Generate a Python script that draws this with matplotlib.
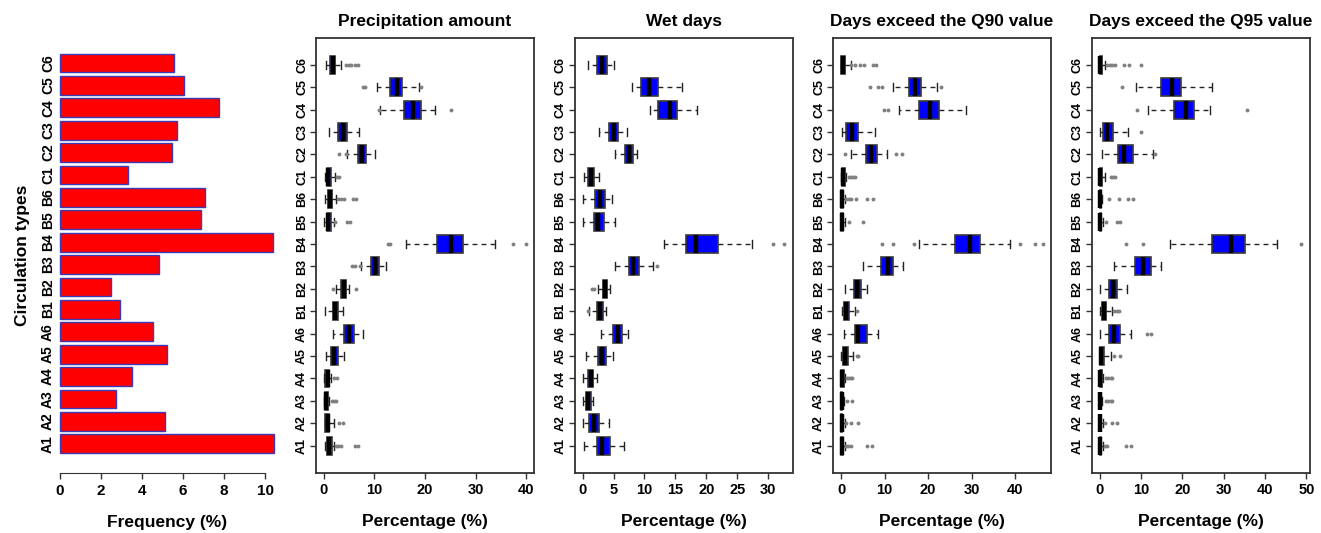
import matplotlib
matplotlib.use("Agg")
import matplotlib.pyplot as plt

plt.rcParams["font.family"] = ["Liberation Sans", "DejaVu Sans"]
plt.rcParams["font.weight"] = "bold"
plt.rcParams["axes.labelweight"] = "bold"
plt.rcParams["axes.titleweight"] = "bold"

# circulation types, bottom -> top
TYPES = ["A1", "A2", "A3", "A4", "A5", "A6", "B1", "B2", "B3",
         "B4", "B5", "B6", "C1", "C2", "C3", "C4", "C5", "C6"]

FREQ = [10.42, 5.11, 2.72, 3.50, 5.21, 4.54, 2.93, 2.48, 4.84,
        10.37, 6.87, 7.07, 3.34, 5.46, 5.73, 7.77, 6.03, 5.54]

# ---- Precipitation amount ----
PRE_LO = [0.2, 0.2, 0.1, 0.1, 0.5, 1.8, 0.3, 2.5, 7.3, 16.3, 0.1, 0.3, 0.3, 4.7, 1.1, 11.1, 10.5, 0.5]
PRE_Q1 = [0.7, 0.3, 0.2, 0.3, 1.5, 4.1, 1.8, 3.5, 9.3, 22.4, 0.6, 0.8, 0.7, 6.7, 2.9, 15.9, 13.1, 1.3]
PRE_MED = [1.1, 0.8, 0.5, 0.8, 2.1, 5.0, 2.3, 4.0, 10.1, 25.1, 0.9, 1.2, 0.9, 7.5, 3.8, 17.7, 14.5, 1.8]
PRE_Q3 = [1.6, 1.1, 0.8, 1.1, 2.8, 6.0, 2.9, 4.5, 10.9, 27.5, 1.5, 1.7, 1.5, 8.3, 4.7, 19.3, 15.5, 2.3]
PRE_HI = [2.1, 2.0, 1.1, 1.5, 4.0, 7.8, 3.8, 5.1, 12.3, 33.8, 2.0, 2.5, 2.3, 10.1, 7.0, 22.0, 18.9, 3.5]
PRE_OUT = [[2.5, 2.9, 3.5, 6.1, 6.7], [3.1, 3.8], [1.6, 2.1, 2.5], [2.1, 2.7], [], [],
           [], [1.9, 6.3], [5.6, 6.2, 7.1], [12.7, 13.1, 37.3, 39.9], [2.3, 4.7, 5.3],
           [2.9, 3.5, 4.0, 5.8, 6.3], [2.7, 3.1], [3.1, 4.5], [], [10.9, 25.1],
           [7.7, 8.1, 19.2], [4.5, 5.0, 5.5, 6.1, 6.7]]

# ---- Wet days ----
WET_LO = [0.3, 0.0, 0.0, 0.1, 0.5, 2.9, 1.1, 2.5, 5.3, 13.2, 0.1, 0.1, 0.3, 5.2, 2.7, 10.9, 8.0, 0.9]
WET_Q1 = [2.3, 1.1, 0.5, 0.8, 2.5, 4.9, 2.3, 3.3, 7.5, 16.7, 1.8, 2.0, 0.9, 6.8, 4.3, 12.2, 9.4, 2.3]
WET_MED = [3.1, 1.8, 0.9, 1.3, 3.1, 5.7, 2.8, 3.7, 8.2, 18.3, 2.5, 2.8, 1.4, 7.5, 5.0, 14.1, 10.7, 3.1]
WET_Q3 = [4.5, 2.6, 1.4, 1.7, 3.8, 6.4, 3.3, 4.0, 9.1, 21.9, 3.4, 3.6, 1.9, 8.1, 5.7, 15.3, 12.2, 3.9]
WET_HI = [6.7, 4.3, 1.7, 2.3, 4.9, 7.4, 3.8, 4.4, 11.3, 27.4, 5.2, 4.7, 2.6, 8.8, 7.1, 18.4, 16.1, 5.1]
WET_OUT = [[], [], [], [], [], [], [0.8], [1.6, 1.9], [12.0], [30.8, 32.6],
           [], [], [], [], [], [], [], []]

# ---- Days exceed the Q90 value ----
Q90_LO = [0, 0, 0, 0, 0, 0.6, 0.1, 1.0, 5.1, 17.9, 0, 0, 0, 2.2, 0.1, 13.4, 12.0, 0]
Q90_Q1 = [0, 0, 0, 0, 0.4, 3.1, 0.6, 3.0, 9.2, 26.1, 0, 0, 0.1, 5.7, 1.2, 17.9, 15.5, 0]
Q90_MED = [0.1, 0.1, 0.1, 0.2, 0.8, 3.9, 1.2, 3.7, 10.9, 29.7, 0.1, 0.1, 0.4, 6.8, 2.6, 20.5, 16.9, 0.4]
Q90_Q3 = [0.5, 0.2, 0.2, 0.6, 1.6, 5.9, 1.9, 4.5, 11.9, 31.9, 0.5, 0.5, 0.9, 8.2, 4.0, 22.4, 18.3, 1.0]
Q90_HI = [0.8, 0.8, 0.6, 1.0, 2.8, 8.4, 3.3, 5.9, 14.2, 38.9, 1.0, 0.8, 1.2, 10.5, 7.8, 28.8, 22.0, 2.2]
Q90_OUT = [[1.2, 1.6, 2.2, 5.9, 7.2], [1.2, 2.3, 3.9], [1.4, 2.6], [1.4, 1.8, 2.2, 2.6],
           [3.6, 3.9], [], [3.7], [], [], [9.4, 11.9, 16.7, 41.2, 44.5, 46.4],
           [1.8, 5.1], [1.2, 1.8, 2.2, 3.5, 5.9, 7.4], [1.8, 2.3, 2.8, 3.2],
           [0.8, 12.7, 14.1], [], [9.9, 10.7], [6.6, 8.6, 9.3, 22.9],
           [2.3, 3.3, 4.3, 5.3, 7.4, 8.0]]

# ---- Days exceed the Q95 value ----
Q95_LO = [0, 0, 0, 0, 0, 0, 0, 0, 3.5, 17.0, 0, 0, 0, 0.7, 0, 11.7, 8.8, 0]
Q95_Q1 = [0, 0, 0, 0, 0, 2.3, 0.5, 2.3, 8.6, 27.2, 0, 0, 0, 4.5, 0.8, 18.0, 14.9, 0]
Q95_MED = [0.1, 0.1, 0, 0.2, 0.4, 3.5, 1.1, 3.3, 10.6, 31.8, 0.1, 0.1, 0.2, 6.0, 1.9, 20.8, 17.6, 0.2]
Q95_Q3 = [0.4, 0.2, 0.2, 0.5, 1.1, 5.0, 1.6, 4.2, 12.5, 35.2, 0.4, 0.4, 0.7, 8.2, 3.3, 22.8, 19.8, 0.7]
Q95_HI = [0.9, 0.9, 0.7, 0.9, 2.7, 7.7, 2.9, 6.6, 14.9, 42.9, 0.9, 0.7, 1.2, 12.9, 6.8, 26.6, 27.2, 1.2]
Q95_OUT = [[1.2, 1.9, 6.4, 7.7], [1.2, 2.9, 4.1], [1.5, 2.0, 2.7, 3.1], [1.5, 2.0, 2.7, 3.1],
           [3.5, 5.0], [11.5, 12.5], [3.5, 4.2, 4.7], [], [], [6.5, 10.4, 48.8],
           [1.6, 4.3, 5.0], [2.3, 4.7, 6.9, 8.0], [2.7, 3.3, 3.8], [13.5], [10.0],
           [9.1, 35.6], [5.5], [1.9, 2.5, 3.1, 3.7, 6.0, 7.2, 9.9]]

W, H = 1321, 533
fig = plt.figure(figsize=(W / 100, H / 100), dpi=100)


def px_axes(x0, y0, x1, y1):
    return fig.add_axes([x0 / W, 1 - y1 / H, (x1 - x0) / W, (y1 - y0) / H])


TOP, BOT = 37.5, 473
EDGE = "#333333"

# ---- panel 1: frequency bars ----
ax = px_axes(51.4, TOP, 282.2, BOT)
ypos = [0.7 + 1.2 * i for i in range(len(TYPES))]
ax.barh(ypos, FREQ, height=1.0, color="#ff0000", edgecolor="#3b3bb8", linewidth=1)
fmax = max(FREQ)
ax.set_xlim(-0.04 * fmax, 1.04 * fmax)
ax.set_ylim(-0.04 * 21.6, 21.6 * 1.04)
for s in ["top", "right", "left"]:
    ax.spines[s].set_visible(False)
ax.spines["bottom"].set_bounds(0, 10)
ax.spines["bottom"].set_color(EDGE)
ax.set_xticks([0, 2, 4, 6, 8, 10])
ax.tick_params(axis="x", direction="out", length=4, width=1, color=EDGE,
               labelsize=11, pad=4)
ax.set_yticks(ypos, TYPES, rotation=90, va="center", ha="center")
ax.tick_params(axis="y", length=0, labelsize=10, pad=2.5)
ax.set_xlabel("Frequency (%)", fontsize=12.5, labelpad=12)
ax.set_ylabel("Circulation types", fontsize=12.5, labelpad=8)


def box_panel(x0, lo, q1, med, q3, hi, out, title, ticks):
    ax = px_axes(x0, TOP, x0 + 218, BOT)
    stats = []
    for i in range(len(TYPES)):
        stats.append(dict(whislo=lo[i], q1=q1[i], med=med[i], q3=q3[i],
                          whishi=hi[i], fliers=out[i]))
    pos = list(range(1, len(TYPES) + 1))
    ax.bxp(stats, positions=pos, widths=0.8, capwidths=0.36,
           orientation="horizontal", patch_artist=True, manage_ticks=False,
           boxprops=dict(facecolor="#0000ff", edgecolor="#3a3a3a", linewidth=1.2),
           medianprops=dict(color="black", linewidth=3.2, solid_capstyle="butt"),
           whiskerprops=dict(color="#222222", linewidth=1, linestyle=(0, (3.5, 3))),
           capprops=dict(color="#222222", linewidth=1),
           flierprops=dict(marker="o", markersize=2.8, markerfacecolor="#808080",
                           markeredgecolor="none"))
    vals = lo + [v for o in out for v in o]
    vmin, vmax = min(vals), max(vals)
    ext = 0.04 * (vmax - vmin)
    ax.set_xlim(vmin - ext, vmax + ext)
    ax.set_ylim(0.5 - 0.72, len(TYPES) + 0.5 + 0.72)
    ax.set_xticks(ticks)
    ax.set_yticks(pos, TYPES, rotation=90, va="center", ha="center")
    ax.tick_params(axis="x", direction="out", length=4, width=1, color=EDGE,
                   labelsize=10.5, pad=3.5)
    ax.tick_params(axis="y", direction="out", length=4, width=1, color=EDGE,
                   labelsize=9, pad=6)
    for s in ax.spines.values():
        s.set_color(EDGE)
        s.set_linewidth(1.3)
    ax.set_title(title, fontsize=12.5, pad=8)
    ax.set_xlabel("Percentage (%)", fontsize=12.5, labelpad=12)


box_panel(316, PRE_LO, PRE_Q1, PRE_MED, PRE_Q3, PRE_HI, PRE_OUT,
          "Precipitation amount", [0, 10, 20, 30, 40])
box_panel(574.5, WET_LO, WET_Q1, WET_MED, WET_Q3, WET_HI, WET_OUT,
          "Wet days", [0, 5, 10, 15, 20, 25, 30])
box_panel(833, Q90_LO, Q90_Q1, Q90_MED, Q90_Q3, Q90_HI, Q90_OUT,
          "Days exceed the Q90 value", [0, 10, 20, 30, 40])
box_panel(1091.5, Q95_LO, Q95_Q1, Q95_MED, Q95_Q3, Q95_HI, Q95_OUT,
          "Days exceed the Q95 value", [0, 10, 20, 30, 40, 50])

fig.savefig("out.png", dpi=100)
